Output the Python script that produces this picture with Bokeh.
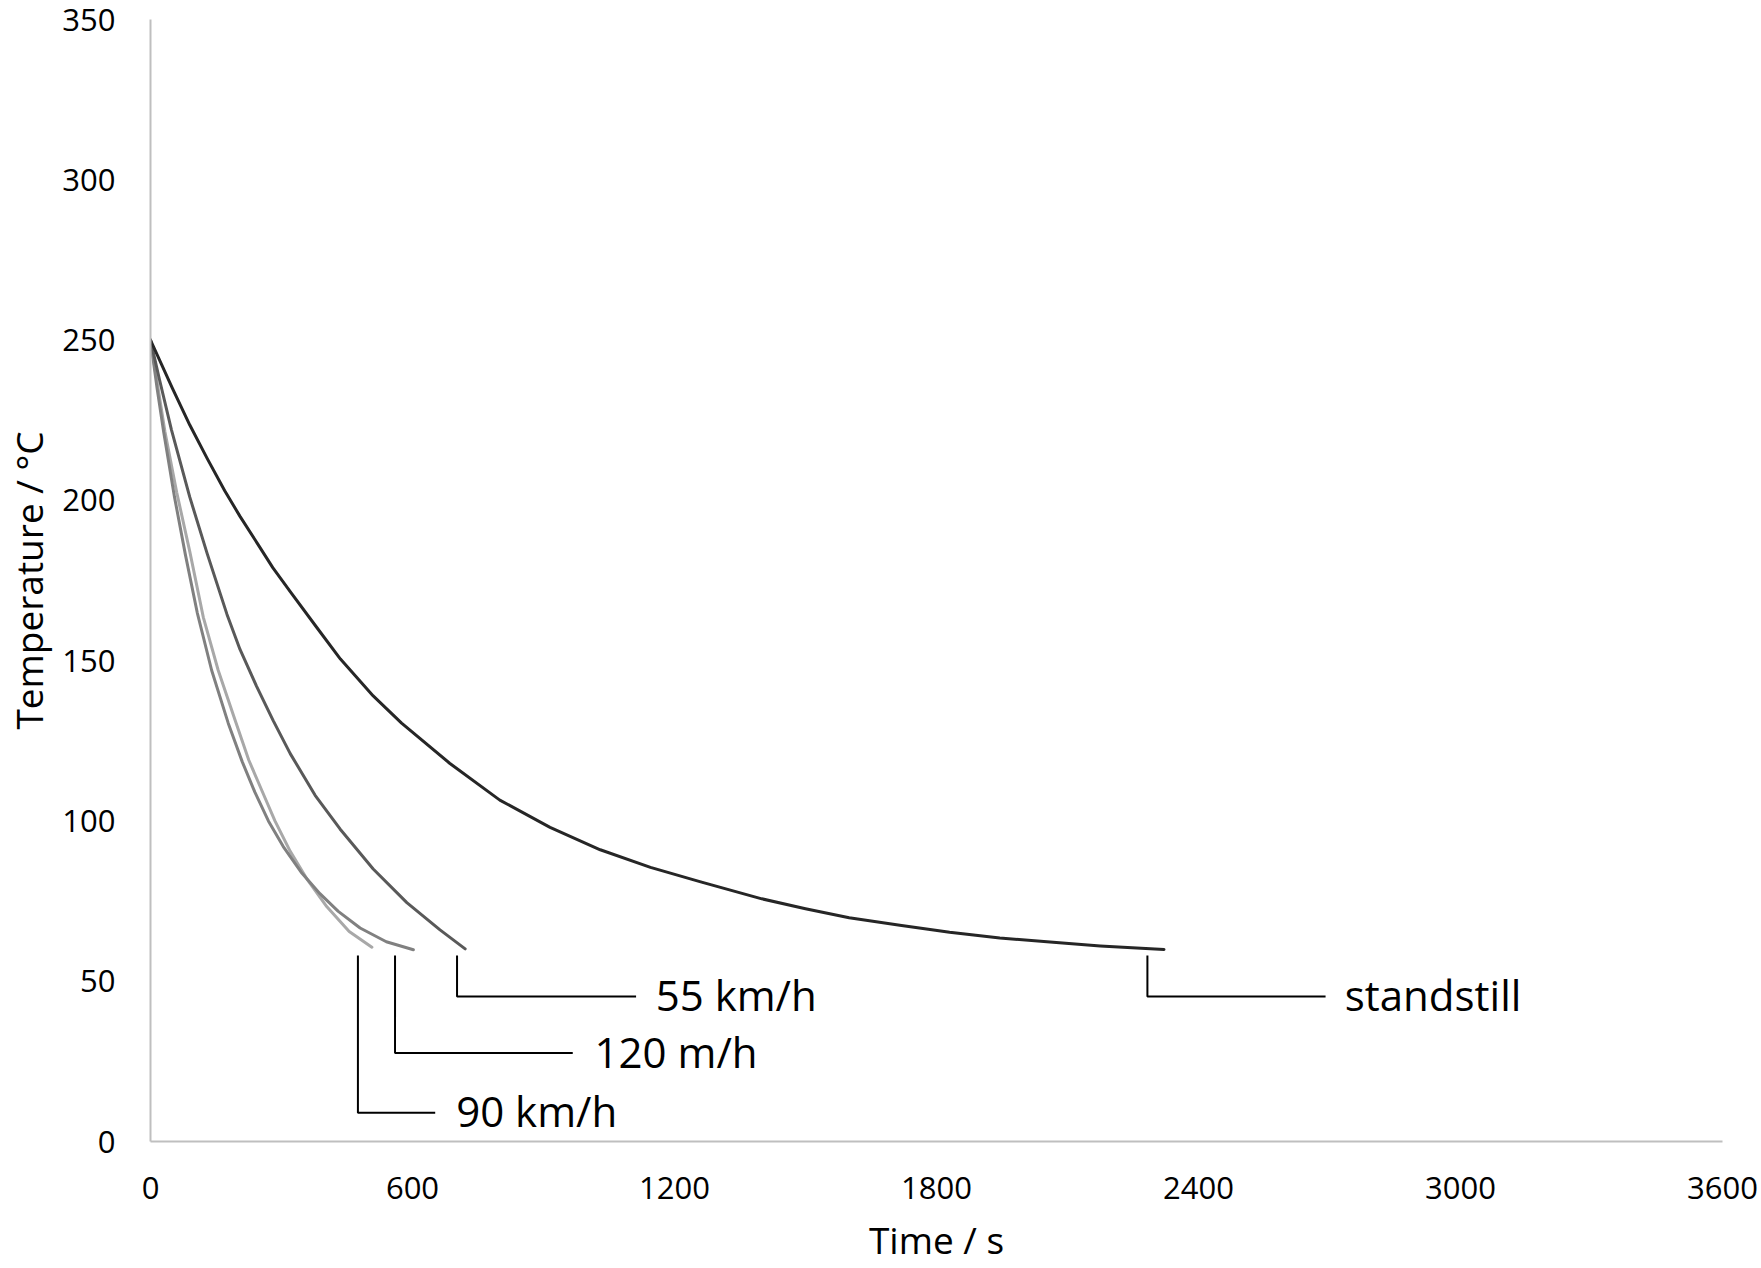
from bokeh.plotting import figure
from bokeh.models import Range1d, FixedTicker
from bokeh.embed import file_html
from bokeh.resources import INLINE
from bokeh.core.properties import value

# Axis ticks
time_ticks = [0, 600, 1200, 1800, 2400, 3000, 3600]
temp_ticks = [0, 50, 100, 150, 200, 250, 300, 350]

# Cooling curves: time (s) and temperature (°C)
standstill_t = [0, 25, 50, 90, 130, 170, 205, 245, 280, 320, 380, 435, 510, 575, 685, 800,
                915, 1030, 1145, 1260, 1400, 1500, 1600, 1720, 1830, 1945, 2060, 2175, 2321]
standstill_T = [250, 242.5, 235, 223.5, 213, 203, 195, 186.5, 179, 171.5, 160.5, 150.5, 139, 130.5, 118, 106.5,
                98, 91, 85.5, 81, 75.7, 72.6, 69.8, 67.4, 65.3, 63.5, 62.2, 61.0, 59.9]

kmh55_t = [0, 20, 48, 90, 130, 175, 205, 243, 281, 320, 377, 434, 510, 587, 663, 720.6]
kmh55_T = [250, 238, 222, 201, 183.3, 164.5, 153.5, 142, 131.3, 121, 108, 97.5, 85, 74.5, 66, 60.1]

mh120_t = [0, 15, 30, 55, 80, 107, 140, 178, 210, 239, 270, 304, 345, 388, 430, 480, 540, 602]
mh120_T = [250, 235, 221.5, 201, 183, 165, 147, 130.5, 118.5, 109, 100, 92, 84, 77.3, 71.8, 66.6, 62.3, 59.8]

kmh90_t = [0, 15, 33, 60, 90, 121, 155, 194, 225, 255, 285, 320, 360, 404, 455, 507]
kmh90_T = [250, 237, 221.5, 202.5, 184, 163.5, 147, 131.3, 119, 109.5, 100, 90.5, 81.5, 73.2, 65.5, 60.6]

series_t = [kmh90_t, mh120_t, kmh55_t, standstill_t]
series_T = [kmh90_T, mh120_T, kmh55_T, standstill_T]
series_color = ["#a8a8a8", "#808080", "#595959", "#262626"]

# Callout labels with elbow leader lines
label_text = ["90 km/h", "120 m/h", "55 km/h", "standstill"]
leader_x = [475, 560, 702, 2283]
leader_top = [58, 58, 58, 58]
leader_corner = [9.0, 27.6, 45.2, 45.2]
leader_end = [652, 967, 1112, 2691]
text_x = [700, 1017, 1157, 2735]
text_y = [c + 0.6 for c in leader_corner]

p = figure(
    width=1761, height=1268,
    x_range=Range1d(0, 3600), y_range=Range1d(0, 350),
    output_backend="svg", toolbar_location=None,
    min_border_left=150, min_border_right=39,
    min_border_top=19, min_border_bottom=127,
)
p.outline_line_color = None
p.background_fill_color = "white"
p.border_fill_color = "white"
p.xgrid.visible = False
p.ygrid.visible = False

for ax in (p.xaxis[0], p.yaxis[0]):
    ax.axis_line_color = "#bfbfbf"
    ax.axis_line_width = 2
    ax.major_tick_line_color = None
    ax.minor_tick_line_color = None
    ax.major_tick_out = 0
    ax.major_tick_in = 0
    ax.minor_tick_out = 0
    ax.minor_tick_in = 0
    ax.major_label_text_font = "Open Sans"
    ax.major_label_text_font_size = "31px"
    ax.major_label_text_color = "#000000"
    ax.axis_label_text_font = "Open Sans"
    ax.axis_label_text_font_size = "37px"
    ax.axis_label_text_font_style = "normal"
    ax.axis_label_text_color = "#000000"

p.xaxis[0].ticker = FixedTicker(ticks=time_ticks)
p.yaxis[0].ticker = FixedTicker(ticks=temp_ticks)
p.xaxis[0].axis_label = "Time / s"
p.yaxis[0].axis_label = "Temperature / °C"
p.xaxis[0].major_label_standoff = 35
p.yaxis[0].major_label_standoff = 35
p.xaxis[0].axis_label_standoff = 12
p.yaxis[0].axis_label_standoff = 5

for t, T, c in zip(series_t, series_T, series_color):
    p.line(t, T, line_color=c, line_width=3, line_cap="round", line_join="round")

xs = [[lx, lx, le] for lx, le in zip(leader_x, leader_end)]
ys = [[lt, lc, lc] for lt, lc in zip(leader_top, leader_corner)]
p.multi_line(xs, ys, line_color="#000000", line_width=2)

p.text(x=text_x, y=text_y, text=label_text,
       text_font=value("Open Sans"), text_font_size="42px",
       text_baseline="middle", text_align="left", text_color="#000000")

open("out.html", "w").write(file_html(p, INLINE))
